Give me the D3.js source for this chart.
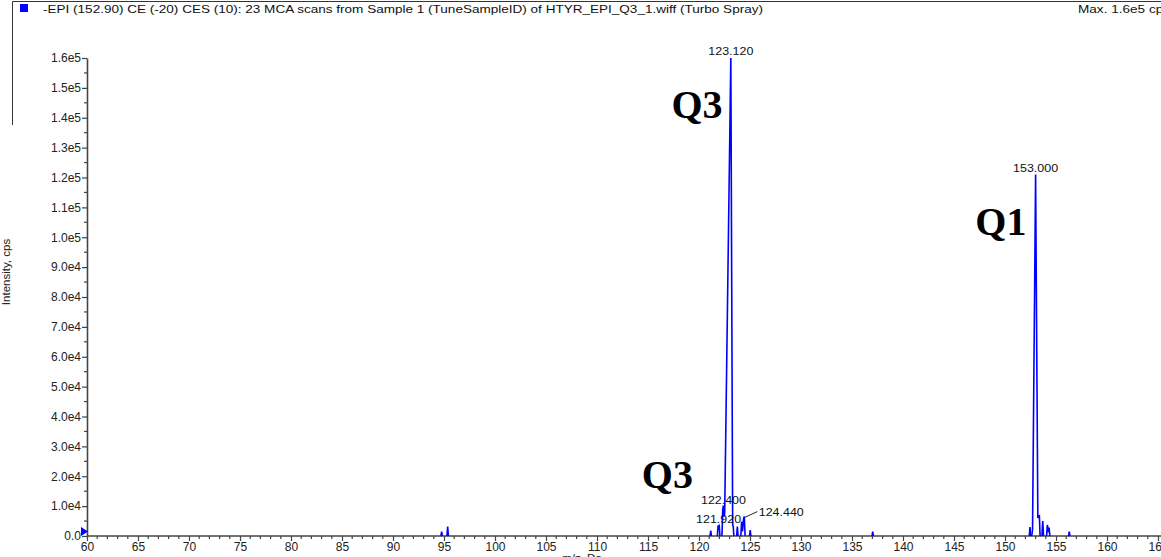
<!DOCTYPE html>
<html>
<head>
<meta charset="utf-8">
<script src="https://cdn.jsdelivr.net/npm/d3@7"></script>
<style>
  html, body { margin: 0; padding: 0; background: #fff; }
  svg { display: block; }
</style>
</head>
<body>
<svg id="chart" width="1161" height="557"></svg>
<script>
// Profile trace of the EPI scan (m/z, intensity in cps)
const profileMz = [
  94.70, 94.77, 94.84,
  95.29, 95.36, 95.43,
  121.08, 121.15, 121.22,
  121.80, 121.87, 121.92, 121.98, 122.05,
  122.25, 122.33, 122.40, 122.47, 122.52, 123.12, 123.30, 123.36, 123.42,
  123.69, 123.76, 123.83,
  124.10, 124.18, 124.26, 124.38, 124.44, 124.52,
  124.95, 125.02, 125.09,
  136.96, 137.03, 137.10,
  152.38, 152.45, 152.52,
  152.62, 152.70, 153.00, 153.22, 153.30, 153.37, 153.44,
  153.62, 153.70, 153.78,
  154.08, 154.15, 154.24, 154.32, 154.40,
  156.23, 156.30, 156.37
];
const profileIntensity = [
  0, 1500, 0,
  0, 3200, 0,
  0, 1800, 0,
  0, 3500, 2200, 3800, 0,
  0, 9000, 10200, 6500, 8000, 160000, 4000, 3000, 0,
  0, 3200, 0,
  0, 4800, 1500, 6000, 6500, 0,
  0, 2000, 0,
  0, 1500, 0,
  0, 3000, 0,
  0, 2000, 121000, 6000, 6700, 6800, 0,
  0, 5000, 0,
  0, 3700, 2000, 2800, 0,
  0, 1500, 0
];

// Centroid labels printed on the peaks
const labelMz = [123.12, 153.00, 122.40, 121.92, 124.44];
const labelIntensity = [160000, 121000, 10200, 3800, 6500];
const labelText = ["123.120", "153.000", "122.400", "121.920", "124.440"];

// Quadrupole annotations
const noteText = ["Q3", "Q1", "Q3"];
const noteMz = [119.8, 149.6, 116.9];
const noteIntensity = [140000, 100700, 16000];

// Axis ticks
const yTickValues = [0, 10000, 20000, 30000, 40000, 50000, 60000, 70000, 80000,
  90000, 100000, 110000, 120000, 130000, 140000, 150000, 160000];
const yTickLabels = ["0.0", "1.0e4", "2.0e4", "3.0e4", "4.0e4", "5.0e4", "6.0e4",
  "7.0e4", "8.0e4", "9.0e4", "1.0e5", "1.1e5", "1.2e5", "1.3e5", "1.4e5", "1.5e5", "1.6e5"];
const xTickValues = [60, 65, 70, 75, 80, 85, 90, 95, 100, 105, 110, 115, 120, 125,
  130, 135, 140, 145, 150, 155, 160, 165];

const titleText = "-EPI (152.90) CE (-20) CES (10): 23 MCA scans from Sample 1 (TuneSampleID) of HTYR_EPI_Q3_1.wiff (Turbo Spray)";
const maxText = "Max. 1.6e5 cps";

const sans = "'Liberation Sans', Arial, sans-serif";
const serif = "'Liberation Serif', 'Times New Roman', serif";

const svg = d3.select("#chart");
const axisColor = "#444";
const traceColor = "#0000ff";

const x = d3.scaleLinear().domain([60, 165]).range([87, 1158]);
const y = d3.scaleLinear().domain([0, 160000]).range([536, 58]);

// Header frame
svg.append("line").attr("x1", 12.5).attr("x2", 1161).attr("y1", 1.5).attr("y2", 1.5)
  .attr("stroke", "#333").attr("stroke-width", 1);
svg.append("line").attr("x1", 12.5).attr("x2", 12.5).attr("y1", 1.5).attr("y2", 125)
  .attr("stroke", "#333").attr("stroke-width", 1);
svg.append("rect").attr("x", 20).attr("y", 4).attr("width", 8).attr("height", 8)
  .attr("fill", traceColor);
svg.append("text").attr("x", 43).attr("y", 13).style("font-family", sans).attr("font-size", 11)
  .attr("textLength", 720).attr("lengthAdjust", "spacingAndGlyphs")
  .attr("fill", "#111").text(titleText);
svg.append("text").attr("x", 1078).attr("y", 13).style("font-family", sans).attr("font-size", 11)
  .attr("textLength", 92).attr("lengthAdjust", "spacingAndGlyphs")
  .attr("fill", "#111").text(maxText);

// Y axis
const yAxis = d3.axisLeft(y).tickValues(yTickValues)
  .tickFormat((d, i) => yTickLabels[i]).tickSize(5).tickSizeOuter(0).tickPadding(1);
const gy = svg.append("g").attr("transform", "translate(87,0)").call(yAxis);
const yMinor = d3.range(5000, 160000, 10000);
gy.selectAll(".minor").data(yMinor).enter().append("line").attr("class", "minor")
  .attr("x1", -3).attr("x2", 0).attr("y1", d => y(d)).attr("y2", d => y(d));

// X axis
const xAxis = d3.axisBottom(x).tickValues(xTickValues).tickFormat(d3.format("d"))
  .tickSize(5).tickSizeOuter(0).tickPadding(1);
const gx = svg.append("g").attr("transform", "translate(0,536)").call(xAxis);
gx.select(".domain").attr("d", "M87,0H1161");
const xMinor = d3.range(61, 166).filter(d => d % 5 !== 0);
gx.selectAll(".minor").data(xMinor).enter().append("line").attr("class", "minor")
  .attr("x1", d => x(d)).attr("x2", d => x(d)).attr("y1", 0).attr("y2", 3);

[gx, gy].forEach(g => {
  g.selectAll(".domain").attr("stroke", axisColor).attr("stroke-width", 1.6);
  g.selectAll("line").attr("stroke", axisColor).attr("stroke-width", 1.2);
  g.selectAll("text").style("font-family", sans).style("font-size", "12px").attr("fill", "#222");
});
gx.selectAll(".tick text").attr("dy", "0.75em");

// Axis titles
svg.append("text").attr("transform", "translate(10,272) rotate(-90)")
  .attr("text-anchor", "middle").style("font-family", sans).attr("font-size", 11.5)
  .attr("fill", "#222").text("Intensity, cps");
svg.append("text").attr("x", 582).attr("y", 562).attr("text-anchor", "middle")
  .style("font-family", sans).attr("font-size", 11.5).attr("fill", "#222").text("m/z, Da");

// Zero marker on the intensity axis
svg.append("path")
  .attr("d", d3.line()([[x(60) - 6, y(0) - 9], [x(60) + 1, y(0) - 4.5], [x(60) - 6, y(0)]]) + "Z")
  .attr("fill", traceColor);

// Profile trace: one path per peak cluster, baseline gaps left undrawn
const pts = profileMz.map((m, i) => [m, profileIntensity[i]]);
const groups = [];
let cur = [];
pts.forEach((p, i) => {
  if (i > 0 && p[1] === 0 && pts[i - 1][1] === 0) {
    if (cur.length > 1) groups.push(cur);
    cur = [];
  }
  cur.push(p);
});
if (cur.length > 1) groups.push(cur);

const line = d3.line().x(d => x(d[0])).y(d => y(d[1]));
svg.append("g").selectAll("path").data(groups).enter().append("path")
  .attr("d", line).attr("fill", "none").attr("stroke", traceColor)
  .attr("stroke-width", 1.6).attr("stroke-linejoin", "miter");

// Peak value labels
const labelDx = [0, 0, 0, 0, 37];
const labelDy = [-3, -3, -2, -2, -1];
const lg = svg.append("g");
labelMz.forEach((m, i) => {
  const px = x(m), py = y(labelIntensity[i]);
  const tx = px + labelDx[i];
  lg.append("text").attr("x", tx).attr("y", py + labelDy[i])
    .attr("text-anchor", "middle").style("font-family", sans).attr("font-size", 11.5)
    .attr("fill", "#111")
    .attr("textLength", 45).attr("lengthAdjust", "spacingAndGlyphs")
    .text(labelText[i]);
  if (labelDx[i] !== 0) {
    lg.append("line").attr("x1", px).attr("y1", py + 1)
      .attr("x2", tx - 24).attr("y2", py + labelDy[i] - 4)
      .attr("stroke", "#222").attr("stroke-width", 1);
  }
});

// Q1 / Q3 annotations
svg.append("g").selectAll("text").data(noteText).enter().append("text")
  .attr("x", (d, i) => x(noteMz[i])).attr("y", (d, i) => y(noteIntensity[i]))
  .attr("text-anchor", "middle")
  .style("font-family", serif)
  .attr("font-weight", "bold").attr("font-size", 40).attr("fill", "#000")
  .text(d => d);
</script>
</body>
</html>
